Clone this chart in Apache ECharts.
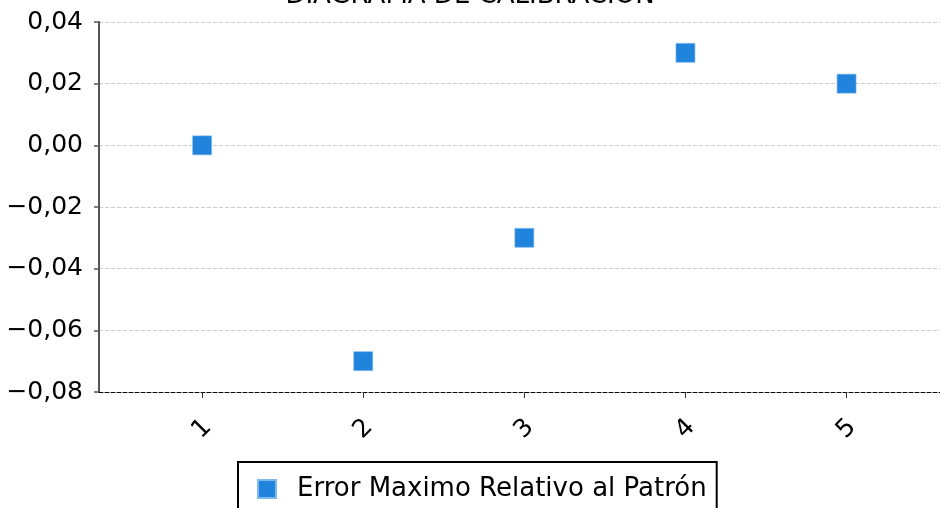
<!DOCTYPE html>
<html>
<head>
<meta charset="utf-8">
<script src="https://cdn.jsdelivr.net/npm/echarts@6/dist/echarts.min.js"></script>
<style>html,body{margin:0;padding:0;background:#fff}#c{width:940px;height:508px}</style>
</head>
<body>
<div id="c"></div>
<script>
const titleText = 'DIAGRAMA DE CALIBRACIÓN';
const seriesName = 'Error Maximo Relativo al Patrón';
const categories = [1, 2, 3, 4, 5];
const values = [0, -0.07, -0.03, 0.03, 0.02];
const yTicks = [-0.08, -0.06, -0.04, -0.02, 0, 0.02, 0.04];

const FONT = 'DejaVu Sans';
const chart = echarts.init(document.getElementById('c'));
const fmt = v => (Math.abs(v) < 1e-9 ? 0 : v).toFixed(2).replace('.', ',').replace('-', '\u2212');

chart.setOption({
  animation: false,
  title: {
    text: titleText, left: 'center', top: -22,
    textStyle: { fontFamily: FONT, fontSize: 26, fontWeight: 'normal', color: '#000' }
  },
  grid: { left: 99, right: 0, top: 22, bottom: 116 },
  legend: {
    top: 462, left: 238,
    data: [seriesName],
    icon: 'rect', itemWidth: 18, itemHeight: 18, itemGap: 10,
    borderColor: '#000', borderWidth: 2, padding: [14, 10, 30, 19],
    textStyle: { fontFamily: FONT, fontSize: 26, color: '#000', padding: [0, 0, 0, 16] }
  },
  xAxis: {
    type: 'value', min: 0.36, max: 5.58,
    axisLine: { show: true, onZero: false, lineStyle: { color: '#000', type: 'dashed', width: 1 } },
    axisTick: { show: true, customValues: categories, length: 6, lineStyle: { color: '#333' } },
    axisLabel: { customValues: categories, rotate: 45, margin: 37, align: 'center', verticalAlign: 'middle',
      fontFamily: FONT, fontSize: 25, color: '#000', formatter: v => String(v) },
    splitLine: { show: false }
  },
  yAxis: {
    type: 'value', min: yTicks[0], max: yTicks[yTicks.length - 1], interval: 0.02,
    axisLine: { show: true, lineStyle: { color: '#555', width: 2 } },
    axisTick: { show: true, length: 5, lineStyle: { color: '#555', width: 1.5 } },
    axisLabel: { fontFamily: FONT, fontSize: 25, color: '#000', margin: 16, formatter: fmt },
    splitLine: { show: true, lineStyle: { color: '#ccc', type: 'dashed' } }
  },
  series: [{
    name: seriesName, type: 'scatter',
    symbol: 'rect', symbolSize: 19,
    itemStyle: { color: '#2184dc', opacity: 1, borderColor: '#7fb8ec', borderWidth: 0.6 },
    data: categories.map((c, i) => [c, values[i]])
  }]
});
</script>
</body>
</html>
